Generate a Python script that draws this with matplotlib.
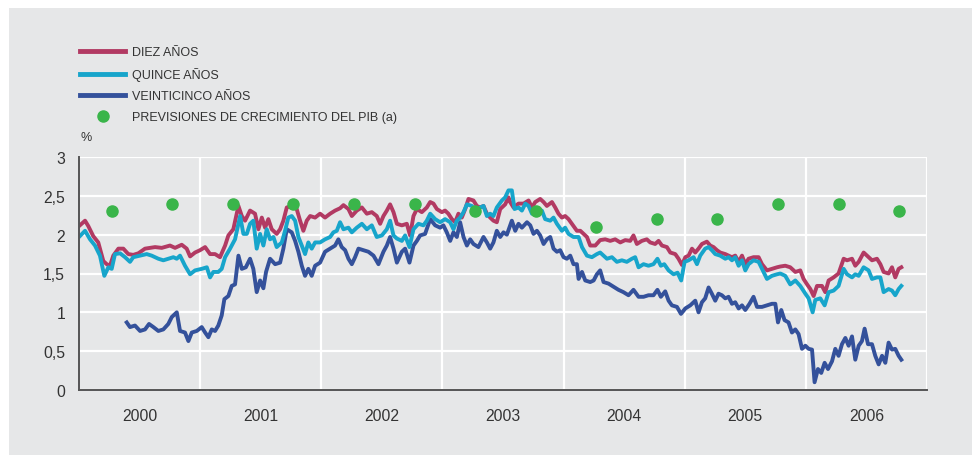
import numpy as np
import matplotlib.pyplot as plt
from matplotlib.patches import Rectangle
from matplotlib.ticker import FixedLocator, FuncFormatter

plt.rcParams['font.family'] = ['Liberation Sans', 'DejaVu Sans']

# Datos (fecha en años decimales, rentabilidad en %)
diez_t = [2000.000, 2000.050, 2000.077, 2000.118, 2000.159, 2000.201, 2000.229, 2000.256, 2000.283, 2000.325,
          2000.366, 2000.407, 2000.448, 2000.490, 2000.545, 2000.628, 2000.683, 2000.751, 2000.793, 2000.848,
          2000.889, 2000.917, 2000.958, 2000.999, 2001.041, 2001.082, 2001.123, 2001.164, 2001.206, 2001.233,
          2001.274, 2001.316, 2001.344, 2001.371, 2001.412, 2001.453, 2001.481, 2001.509, 2001.536, 2001.563,
          2001.591, 2001.632, 2001.660, 2001.687, 2001.715, 2001.756, 2001.797, 2001.825, 2001.852, 2001.880,
          2001.908, 2001.949, 2001.990, 2002.031, 2002.073, 2002.114, 2002.155, 2002.183, 2002.224, 2002.252,
          2002.293, 2002.335, 2002.376, 2002.417, 2002.458, 2002.486, 2002.513, 2002.541, 2002.568, 2002.596,
          2002.624, 2002.665, 2002.706, 2002.733, 2002.761, 2002.789, 2002.830, 2002.871, 2002.899, 2002.926,
          2002.954, 2002.995, 2003.022, 2003.049, 2003.078, 2003.105, 2003.132, 2003.160, 2003.188, 2003.215,
          2003.256, 2003.284, 2003.312, 2003.339, 2003.367, 2003.394, 2003.421, 2003.449, 2003.477, 2003.518,
          2003.545, 2003.559, 2003.587, 2003.628, 2003.670, 2003.711, 2003.739, 2003.766, 2003.807, 2003.835,
          2003.862, 2003.904, 2003.931, 2003.958, 2003.986, 2004.013, 2004.041, 2004.069, 2004.110, 2004.138,
          2004.165, 2004.193, 2004.220, 2004.262, 2004.302, 2004.344, 2004.385, 2004.426, 2004.468, 2004.509,
          2004.550, 2004.577, 2004.605, 2004.646, 2004.687, 2004.715, 2004.756, 2004.784, 2004.812, 2004.853,
          2004.881, 2004.922, 2004.949, 2004.977, 2005.005, 2005.032, 2005.060, 2005.087, 2005.114, 2005.142,
          2005.183, 2005.211, 2005.238, 2005.266, 2005.293, 2005.335, 2005.362, 2005.390, 2005.417, 2005.445,
          2005.473, 2005.500, 2005.527, 2005.568, 2005.610, 2005.638, 2005.679, 2005.720, 2005.762, 2005.789,
          2005.830, 2005.871, 2005.913, 2005.954, 2005.981, 2006.010, 2006.037, 2006.064, 2006.092, 2006.133,
          2006.160, 2006.188, 2006.229, 2006.270, 2006.312, 2006.340, 2006.381, 2006.408, 2006.436, 2006.477,
          2006.505, 2006.546, 2006.587, 2006.615, 2006.642, 2006.683, 2006.711, 2006.738, 2006.766, 2006.788]
diez_v = [2.11, 2.18, 2.11, 1.98, 1.90, 1.66, 1.62, 1.60, 1.73, 1.82,
          1.82, 1.75, 1.74, 1.76, 1.82, 1.84, 1.83, 1.86, 1.83, 1.87,
          1.82, 1.72, 1.77, 1.80, 1.84, 1.75, 1.75, 1.71, 1.86, 1.99,
          2.07, 2.37, 2.24, 2.18, 2.31, 2.27, 2.07, 2.22, 2.09, 2.20,
          2.07, 2.01, 2.07, 2.18, 2.35, 2.37, 2.33, 2.18, 2.05, 2.18,
          2.24, 2.22, 2.27, 2.22, 2.27, 2.31, 2.34, 2.38, 2.33, 2.24,
          2.31, 2.35, 2.27, 2.29, 2.24, 2.14, 2.24, 2.31, 2.39, 2.29,
          2.14, 2.12, 2.14, 1.99, 2.24, 2.33, 2.29, 2.35, 2.42, 2.40,
          2.33, 2.29, 2.31, 2.27, 2.20, 2.16, 2.27, 2.22, 2.33, 2.46,
          2.44, 2.37, 2.35, 2.37, 2.27, 2.22, 2.18, 2.16, 2.33, 2.39,
          2.48, 2.42, 2.35, 2.40, 2.40, 2.44, 2.35, 2.42, 2.46, 2.42,
          2.37, 2.42, 2.35, 2.27, 2.22, 2.24, 2.20, 2.14, 2.05, 2.05,
          2.01, 1.97, 1.86, 1.86, 1.93, 1.94, 1.92, 1.94, 1.90, 1.93,
          1.92, 1.99, 1.88, 1.92, 1.94, 1.90, 1.88, 1.92, 1.86, 1.84,
          1.77, 1.75, 1.69, 1.61, 1.71, 1.73, 1.82, 1.77, 1.82, 1.88,
          1.91, 1.86, 1.84, 1.80, 1.77, 1.75, 1.73, 1.71, 1.73, 1.65,
          1.73, 1.62, 1.69, 1.71, 1.71, 1.62, 1.54, 1.56, 1.58, 1.59,
          1.60, 1.58, 1.52, 1.54, 1.43, 1.36, 1.30, 1.21, 1.34, 1.34,
          1.26, 1.41, 1.45, 1.50, 1.69, 1.67, 1.69, 1.60, 1.65, 1.77,
          1.73, 1.67, 1.69, 1.62, 1.52, 1.50, 1.58, 1.45, 1.56, 1.58]

quince_t = [2000.000, 2000.050, 2000.091, 2000.132, 2000.173, 2000.209, 2000.242, 2000.270, 2000.297, 2000.339,
            2000.380, 2000.421, 2000.448, 2000.504, 2000.559, 2000.600, 2000.655, 2000.696, 2000.737, 2000.779,
            2000.807, 2000.834, 2000.875, 2000.917, 2000.958, 2001.013, 2001.055, 2001.082, 2001.109, 2001.150,
            2001.178, 2001.206, 2001.247, 2001.288, 2001.330, 2001.357, 2001.385, 2001.412, 2001.439, 2001.467,
            2001.495, 2001.522, 2001.550, 2001.577, 2001.605, 2001.632, 2001.674, 2001.701, 2001.728, 2001.756,
            2001.784, 2001.811, 2001.839, 2001.866, 2001.893, 2001.921, 2001.949, 2001.990, 2002.031, 2002.073,
            2002.100, 2002.128, 2002.155, 2002.183, 2002.224, 2002.252, 2002.293, 2002.335, 2002.376, 2002.417,
            2002.458, 2002.500, 2002.541, 2002.568, 2002.596, 2002.624, 2002.665, 2002.692, 2002.728, 2002.761,
            2002.802, 2002.843, 2002.871, 2002.899, 2002.940, 2002.981, 2003.022, 2003.064, 2003.091, 2003.119,
            2003.146, 2003.174, 2003.202, 2003.243, 2003.270, 2003.312, 2003.339, 2003.367, 2003.394, 2003.421,
            2003.449, 2003.491, 2003.518, 2003.545, 2003.573, 2003.595, 2003.628, 2003.656, 2003.684, 2003.711,
            2003.739, 2003.780, 2003.821, 2003.848, 2003.890, 2003.917, 2003.945, 2003.986, 2004.013, 2004.041,
            2004.082, 2004.124, 2004.152, 2004.193, 2004.234, 2004.275, 2004.302, 2004.330, 2004.358, 2004.399,
            2004.440, 2004.481, 2004.522, 2004.564, 2004.591, 2004.619, 2004.660, 2004.701, 2004.742, 2004.775,
            2004.803, 2004.831, 2004.867, 2004.908, 2004.941, 2004.971, 2004.999, 2005.032, 2005.073, 2005.101,
            2005.128, 2005.169, 2005.197, 2005.224, 2005.252, 2005.293, 2005.335, 2005.362, 2005.390, 2005.417,
            2005.445, 2005.473, 2005.500, 2005.527, 2005.568, 2005.610, 2005.638, 2005.679, 2005.720, 2005.762,
            2005.789, 2005.830, 2005.871, 2005.913, 2005.954, 2005.996, 2006.023, 2006.056, 2006.078, 2006.119,
            2006.155, 2006.188, 2006.229, 2006.270, 2006.312, 2006.340, 2006.381, 2006.408, 2006.436, 2006.477,
            2006.518, 2006.546, 2006.587, 2006.615, 2006.642, 2006.683, 2006.711, 2006.738, 2006.766, 2006.788]
quince_v = [1.97, 2.05, 1.94, 1.86, 1.73, 1.47, 1.58, 1.56, 1.75, 1.76,
            1.71, 1.65, 1.71, 1.73, 1.75, 1.73, 1.69, 1.67, 1.69, 1.71,
            1.69, 1.73, 1.60, 1.49, 1.54, 1.56, 1.58, 1.45, 1.52, 1.52,
            1.56, 1.71, 1.82, 1.94, 2.24, 2.01, 2.01, 2.14, 2.18, 1.82,
            2.01, 1.86, 2.07, 1.94, 1.97, 1.84, 1.90, 2.05, 2.22, 2.24,
            2.18, 1.97, 1.86, 1.75, 1.90, 1.82, 1.90, 1.90, 1.94, 1.97,
            2.03, 2.05, 2.16, 2.07, 2.09, 2.03, 2.09, 2.14, 2.07, 2.12,
            1.97, 1.99, 2.07, 2.18, 1.99, 1.95, 1.92, 1.99, 1.84, 2.07,
            2.14, 2.12, 2.18, 2.27, 2.20, 2.16, 2.20, 2.16, 2.07, 2.18,
            2.22, 2.29, 2.39, 2.37, 2.31, 2.35, 2.37, 2.24, 2.27, 2.24,
            2.35, 2.44, 2.48, 2.57, 2.57, 2.33, 2.35, 2.31, 2.40, 2.37,
            2.27, 2.31, 2.31, 2.20, 2.18, 2.22, 2.14, 2.05, 2.09, 2.01,
            1.97, 1.97, 1.84, 1.73, 1.71, 1.75, 1.77, 1.73, 1.69, 1.71,
            1.65, 1.67, 1.65, 1.69, 1.71, 1.58, 1.62, 1.60, 1.62, 1.69,
            1.60, 1.62, 1.54, 1.49, 1.51, 1.41, 1.65, 1.67, 1.71, 1.62,
            1.73, 1.82, 1.84, 1.80, 1.75, 1.73, 1.69, 1.71, 1.67, 1.71,
            1.60, 1.67, 1.54, 1.62, 1.67, 1.65, 1.56, 1.43, 1.47, 1.49,
            1.50, 1.47, 1.36, 1.41, 1.34, 1.24, 1.18, 1.00, 1.16, 1.18,
            1.09, 1.26, 1.28, 1.34, 1.56, 1.49, 1.45, 1.49, 1.47, 1.58,
            1.54, 1.43, 1.45, 1.45, 1.26, 1.30, 1.28, 1.22, 1.30, 1.34]

veinticinco_t = [2000.394, 2000.421, 2000.462, 2000.504, 2000.545, 2000.578, 2000.614, 2000.655, 2000.696, 2000.737,
                 2000.766, 2000.807, 2000.834, 2000.875, 2000.903, 2000.931, 2000.972, 2001.013, 2001.041, 2001.068,
                 2001.096, 2001.123, 2001.150, 2001.178, 2001.200, 2001.233, 2001.261, 2001.288, 2001.316, 2001.344,
                 2001.377, 2001.412, 2001.439, 2001.467, 2001.495, 2001.522, 2001.544, 2001.577, 2001.619, 2001.660,
                 2001.687, 2001.715, 2001.756, 2001.784, 2001.811, 2001.839, 2001.866, 2001.893, 2001.921, 2001.949,
                 2001.990, 2002.031, 2002.073, 2002.114, 2002.141, 2002.169, 2002.197, 2002.224, 2002.252, 2002.279,
                 2002.307, 2002.348, 2002.389, 2002.431, 2002.472, 2002.513, 2002.541, 2002.568, 2002.596, 2002.624,
                 2002.665, 2002.692, 2002.728, 2002.761, 2002.789, 2002.816, 2002.857, 2002.899, 2002.940, 2002.981,
                 2003.008, 2003.036, 2003.064, 2003.091, 2003.119, 2003.146, 2003.174, 2003.202, 2003.229, 2003.256,
                 2003.297, 2003.339, 2003.367, 2003.394, 2003.421, 2003.449, 2003.477, 2003.504, 2003.532, 2003.573,
                 2003.601, 2003.628, 2003.656, 2003.698, 2003.725, 2003.752, 2003.780, 2003.807, 2003.835, 2003.862,
                 2003.890, 2003.917, 2003.945, 2003.972, 2004.000, 2004.027, 2004.055, 2004.082, 2004.110, 2004.124,
                 2004.152, 2004.179, 2004.220, 2004.248, 2004.275, 2004.302, 2004.330, 2004.371, 2004.412, 2004.453,
                 2004.494, 2004.536, 2004.577, 2004.619, 2004.660, 2004.701, 2004.742, 2004.775, 2004.803, 2004.839,
                 2004.867, 2004.894, 2004.936, 2004.969, 2005.005, 2005.046, 2005.087, 2005.114, 2005.142, 2005.169,
                 2005.197, 2005.224, 2005.252, 2005.279, 2005.307, 2005.335, 2005.362, 2005.390, 2005.417, 2005.445,
                 2005.473, 2005.500, 2005.535, 2005.568, 2005.597, 2005.638, 2005.679, 2005.720, 2005.748, 2005.770,
                 2005.797, 2005.824, 2005.857, 2005.885, 2005.913, 2005.940, 2005.968, 2005.996, 2006.023, 2006.051,
                 2006.072, 2006.100, 2006.127, 2006.155, 2006.183, 2006.216, 2006.243, 2006.270, 2006.298, 2006.326,
                 2006.353, 2006.381, 2006.408, 2006.436, 2006.463, 2006.485, 2006.513, 2006.546, 2006.573, 2006.601,
                 2006.629, 2006.656, 2006.683, 2006.711, 2006.738, 2006.766, 2006.788]
veinticinco_v = [0.87, 0.81, 0.83, 0.76, 0.78, 0.85, 0.81, 0.76, 0.78, 0.85,
                 0.94, 1.00, 0.76, 0.74, 0.63, 0.74, 0.76, 0.81, 0.74, 0.68,
                 0.78, 0.76, 0.83, 0.96, 1.17, 1.21, 1.34, 1.36, 1.73, 1.56,
                 1.58, 1.69, 1.56, 1.26, 1.41, 1.31, 1.52, 1.69, 1.62, 1.64,
                 1.82, 2.07, 2.03, 1.92, 1.78, 1.60, 1.47, 1.56, 1.47, 1.60,
                 1.64, 1.78, 1.82, 1.86, 1.94, 1.84, 1.80, 1.69, 1.62, 1.71,
                 1.82, 1.80, 1.78, 1.73, 1.62, 1.78, 1.86, 1.97, 1.82, 1.64,
                 1.78, 1.82, 1.64, 1.86, 1.92, 1.99, 2.01, 2.20, 2.12, 2.09,
                 2.12, 2.03, 1.92, 2.03, 1.97, 2.16, 1.97, 1.86, 1.94, 1.88,
                 1.84, 1.97, 1.90, 1.82, 1.90, 2.05, 1.97, 2.03, 2.00, 2.18,
                 2.05, 2.14, 2.09, 2.16, 2.12, 2.01, 2.05, 1.99, 1.88, 1.94,
                 1.97, 1.82, 1.78, 1.80, 1.71, 1.69, 1.73, 1.62, 1.62, 1.43,
                 1.52, 1.41, 1.39, 1.41, 1.49, 1.54, 1.39, 1.37, 1.33, 1.29,
                 1.26, 1.22, 1.29, 1.20, 1.20, 1.22, 1.22, 1.29, 1.20, 1.27,
                 1.15, 1.09, 1.07, 0.98, 1.05, 1.09, 1.15, 1.00, 1.13, 1.18,
                 1.32, 1.24, 1.15, 1.24, 1.22, 1.18, 1.20, 1.11, 1.13, 1.05,
                 1.09, 1.03, 1.11, 1.20, 1.07, 1.07, 1.09, 1.11, 1.11, 0.87,
                 1.03, 0.90, 0.87, 0.74, 0.78, 0.72, 0.53, 0.57, 0.53, 0.52,
                 0.10, 0.27, 0.22, 0.35, 0.27, 0.37, 0.53, 0.44, 0.59, 0.67,
                 0.57, 0.69, 0.39, 0.57, 0.63, 0.79, 0.59, 0.59, 0.44, 0.33,
                 0.44, 0.35, 0.61, 0.52, 0.53, 0.44, 0.39]

pib_t = [2000.27, 2000.77, 2001.27, 2001.77, 2002.27, 2002.77, 2003.27,
         2003.77, 2004.27, 2004.77, 2005.27, 2005.77, 2006.27, 2006.77]
pib_v = [2.3, 2.4, 2.4, 2.4, 2.4, 2.4, 2.3, 2.3, 2.1, 2.2, 2.2, 2.4, 2.4, 2.3]

years = [2000, 2001, 2002, 2003, 2004, 2005, 2006]

c_diez = '#B23A63'
c_quince = '#17A5CB'
c_veinti = '#34519B'
c_pib = '#3AB54A'
fondo = '#E6E7E8'
texto = '#333333'

fig = plt.figure(figsize=(9.72, 4.56), dpi=100, facecolor='white')
fig.patches.append(Rectangle((9 / 972, 0), 1, 1 - 9 / 456, transform=fig.transFigure,
                             facecolor=fondo, edgecolor='none', zorder=-10))

ax = fig.add_axes([79 / 972, 1 - 391 / 456, (927 - 79) / 972, (391 - 158) / 456])
ax.set_facecolor(fondo)

ax.plot(diez_t, diez_v, color=c_diez, lw=2.8, label='DIEZ AÑOS', zorder=3)
ax.plot(quince_t, quince_v, color=c_quince, lw=2.8, label='QUINCE AÑOS', zorder=4)
ax.plot(veinticinco_t, veinticinco_v, color=c_veinti, lw=2.8, label='VEINTICINCO AÑOS', zorder=3)
ax.plot(pib_t, pib_v, 'o', color=c_pib, ms=8, label='PREVISIONES DE CRECIMIENTO DEL PIB (a)', zorder=5)

ax.set_xlim(2000, 2007)
ax.set_ylim(0, 3)

# Etiquetas de año centradas, rejilla en los cambios de año
ax.xaxis.set_major_locator(FixedLocator([y + 0.5 for y in years]))
ax.set_xticklabels([str(y) for y in years])
ax.xaxis.set_minor_locator(FixedLocator(list(range(2001, 2008))))
ax.set_yticks(np.arange(0, 3.01, 0.5))
ax.yaxis.set_major_formatter(FuncFormatter(lambda v, p: ('%g' % v).replace('.', ',')))

ax.grid(True, which='minor', axis='x', color='white', lw=1.6, zorder=1)
ax.grid(True, which='major', axis='y', color='white', lw=1.6, zorder=1)
ax.set_axisbelow(True)

ax.tick_params(axis='x', which='both', length=0, pad=13, labelsize=11.3, colors=texto)
ax.tick_params(axis='y', length=0, pad=10, labelsize=11.3, colors=texto)

for s in ['top', 'right']:
    ax.spines[s].set_visible(False)
for s in ['left', 'bottom']:
    ax.spines[s].set_color('#555555')
    ax.spines[s].set_linewidth(1.4)
    ax.spines[s].set_zorder(6)

fig.text(80 / 972, 1 - 138 / 456, '%', fontsize=9, color=texto, va='center', ha='left')

leg = ax.legend(loc='upper left', bbox_to_anchor=(80 / 972, 1 - 47 / 456), bbox_transform=fig.transFigure,
                frameon=False, fontsize=9, handlelength=3.6, handletextpad=0.56, labelspacing=0.72,
                borderpad=0, borderaxespad=0, numpoints=1)
for line in leg.get_lines():
    line.set_linewidth(3.5)
for t in leg.get_texts():
    t.set_color(texto)

fig.savefig('out.png', dpi=100, facecolor='white')
